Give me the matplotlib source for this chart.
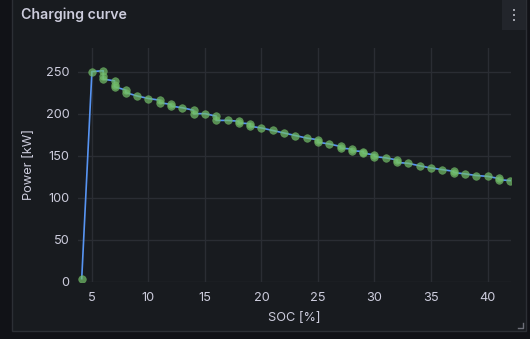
import matplotlib
matplotlib.use('Agg')
from matplotlib import pyplot as plt
from matplotlib.patches import Rectangle

plt.rcParams['font.family'] = ['Inter', 'DejaVu Sans']

# charging samples, SOC [%] and power [kW]
soc = [4.1, 5, 6, 6, 6, 7, 7, 7, 8, 8, 9, 10, 11, 11, 12, 12, 13, 14, 14, 15,
       16, 16, 17, 18, 18, 19, 19, 20, 21, 22, 23, 24, 25, 25, 26, 27, 27,
       28, 28, 29, 29, 30, 30, 31, 32, 32, 33, 34, 35, 36, 37, 37, 38, 39,
       40, 41, 41, 42]
power = [4, 250, 251, 245, 241, 239, 234, 232, 228, 225, 221, 218, 216, 213,
         211, 209, 207, 204, 200, 200, 197, 192, 192, 191, 189, 188, 185,
         183, 180, 177, 174, 171, 169, 166, 164, 161, 159, 158, 156, 155,
         153, 151, 149, 147.5, 145, 142, 141, 138, 135.5, 133.5, 131.5, 130,
         128.5, 126.5, 125.5, 123, 121.5, 120.5]

xticks = [5, 10, 15, 20, 25, 30, 35, 40]
yticks = [0, 50, 100, 150, 200, 250]

outer_bg = '#111217'
panel_bg = '#181b1f'
text_col = '#ccccdc'
grid_col = '#2a2d33'

fig = plt.figure(figsize=(5.3, 3.39), dpi=100)
fig.patch.set_facecolor(outer_bg)

W, H = 530.0, 339.0
# panel
fig.patches.append(Rectangle((12 / W, 1 - 331 / H), (526 - 12) / W, 340 / H,
                             transform=fig.transFigure, facecolor=panel_bg,
                             edgecolor='#2c2f35', linewidth=1.0, zorder=0))
# menu box
fig.patches.append(Rectangle((502 / W, 1 - 30 / H), 24 / W, 31 / H,
                             transform=fig.transFigure, facecolor='#22252b',
                             edgecolor='none', zorder=1))
for dy in [10, 15, 20]:
    fig.patches.append(Rectangle((513 / W, 1 - (dy + 1.2) / H), 2.4 / W, 2.4 / H,
                                 transform=fig.transFigure, facecolor='#9fa1aa',
                                 edgecolor='none', zorder=2))
# resize handle
fig.lines.append(plt.Line2D([518 / W, 523 / W, 523 / W],
                            [1 - 328 / H, 1 - 328 / H, 1 - 323 / H],
                            transform=fig.transFigure, color='#6e7079',
                            linewidth=1.0))

fig.text(21 / W, 1 - 15 / H, 'Charging curve', color=text_col, fontsize=10.2,
         fontweight='semibold', va='center', ha='left')

ax = fig.add_axes([78 / W, 1 - 282 / H, (510.7 - 78) / W, (282 - 48) / H])
ax.set_zorder(5)
ax.set_facecolor(panel_bg)
ax.plot(soc, power, color='#5794f2', linewidth=1.2, zorder=2)
ax.scatter(soc, power, s=30, color='#73bf69', alpha=0.7, edgecolors='#6aae60',
           linewidths=0.5, zorder=3)

ax.set_xlim(3.77, 42.05)
ax.set_ylim(0, 278)
ax.set_xticks(xticks)
ax.set_yticks(yticks)
ax.grid(True, color=grid_col, linewidth=1.0)
ax.set_axisbelow(True)
for s in ax.spines.values():
    s.set_visible(False)
ax.tick_params(colors=text_col, labelsize=9.2, length=0, pad=6)
ax.tick_params(axis='x', pad=7)
ax.set_xlabel('SOC [%]', color=text_col, fontsize=9.2, labelpad=6)
ax.set_ylabel('Power [kW]', color=text_col, fontsize=9.2, labelpad=8)

fig.savefig('out.png', dpi=100, facecolor=outer_bg)
